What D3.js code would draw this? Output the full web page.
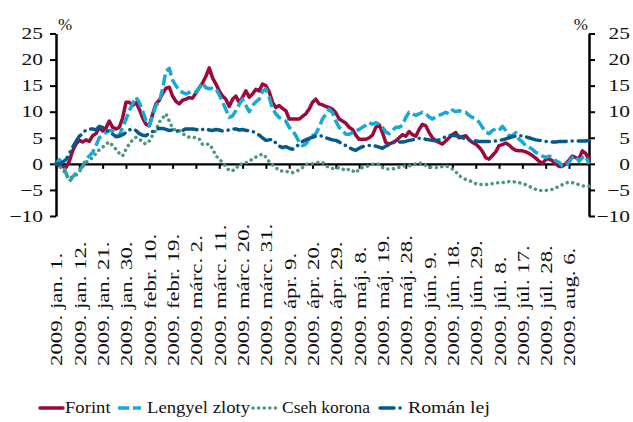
<!DOCTYPE html>
<html>
<head>
<meta charset="utf-8">
<script src="https://cdn.jsdelivr.net/npm/d3@7"></script>
<style>
  body { margin: 0; background: #fff; }
  svg { display: block; }
</style>
</head>
<body>
<svg id="chart" width="633" height="422" font-family="'Liberation Serif', 'DejaVu Serif', serif"></svg>
<script>
// tick labels, one every 7 trading days
const tickLabels = [
  "2009. jan. 1.", "2009. jan. 12.", "2009. jan. 21.", "2009. jan. 30.",
  "2009. febr. 10.", "2009. febr. 19.", "2009. márc. 2.", "2009. márc. 11.",
  "2009. márc. 20.", "2009. márc. 31.", "2009. ápr. 9.", "2009. ápr. 20.",
  "2009. ápr. 29.", "2009. máj. 8.", "2009. máj. 19.", "2009. máj. 28.",
  "2009. jún. 9.", "2009. jún. 18.", "2009. jún. 29.", "2009. júl. 8.",
  "2009. júl. 17.", "2009. júl. 28.", "2009. aug. 6."
];
const yTicks = [-10, -5, 0, 5, 10, 15, 20, 25];

const forint = [
  0, -0.3, -0.5, -0.7, 0.5, 2.5, 3.8, 4.5, 4.2, 4.6,
  4.3, 5.4, 5.8, 7.0, 6.3, 6.9, 8.2, 7.0, 6.7, 7.0,
  8.8, 11.8, 11.8, 11.2, 11.8, 10.5, 8.8, 7.6, 7.3, 9.5,
  11.5, 12.2, 13.5, 14.5, 14.7, 13.0, 12.0, 11.5, 12.2, 12.4,
  12.7, 12.6, 13.6, 14.6, 15.5, 16.8, 18.4, 16.5, 15.3, 14.0,
  13.0, 12.4, 11.0, 12.4, 13.0, 11.8, 12.8, 14.0, 12.8, 13.4,
  14.3, 14.0, 15.3, 15.0, 13.8, 11.8, 10.8, 11.2, 10.6, 10.2,
  8.6, 8.6, 8.6, 8.6, 9.1, 9.6, 10.5, 11.8, 12.4, 11.5,
  11.3, 11.0, 10.8, 10.5, 9.8, 8.6, 8.2, 7.8, 7.0, 6.6,
  5.5, 4.7, 4.7, 4.7, 5.0, 5.5, 7.0, 7.5, 6.0, 4.1,
  3.8, 4.1, 4.4, 5.0, 5.6, 5.3, 6.2, 5.6, 5.3, 6.6,
  7.6, 7.3, 6.0, 5.0, 4.4, 4.1, 3.8, 4.4, 5.0, 5.6,
  6.0, 5.0, 5.2, 5.4, 4.6, 4.1, 3.8, 3.2, 2.4, 1.2,
  0.9, 1.6, 2.3, 3.5, 3.7, 4.0, 3.6, 3.0, 2.6, 2.5,
  2.5, 2.3, 2.0, 1.6, 1.1, 0.5, 0.1, 0.8, 1.0, 0.6,
  0.0, -0.5, -0.5, 0.0, 0.7, 1.5, 1.2, 1.0, 2.5, 2.0, 0.8
];
const zloty = [
  0, 0.8, 0.2, -1.8, -3.4, -2.5, -1.8, -1.2, -0.5, 0.9,
  1.5, 2.2, 3.5, 5.0, 5.4, 6.0, 6.4, 6.3, 6.0, 5.4,
  7.0, 8.5, 10.2, 11.5, 12.8, 11.8, 10.2, 8.3, 7.3, 9.2,
  11.2, 11.8, 14.4, 17.8, 18.3, 16.0, 15.0, 14.0, 13.7, 13.4,
  13.7, 14.0, 13.8, 14.6, 15.5, 14.6, 14.4, 14.5, 14.4, 13.2,
  11.9, 10.4, 8.9, 9.2, 10.2, 11.4, 12.4, 11.2, 10.0, 11.2,
  11.9, 12.4, 13.9, 14.4, 12.8, 10.6, 9.6, 8.9, 8.5, 8.2,
  7.0, 6.4, 5.4, 4.2, 3.5, 3.8, 4.8, 5.4, 5.8, 7.0,
  8.6, 9.5, 10.5, 9.8, 8.2, 7.0, 6.4, 5.7, 5.7, 6.0,
  6.3, 6.6, 7.0, 7.4, 7.9, 7.6, 7.9, 7.6, 7.0, 6.1,
  5.8, 6.4, 7.0, 7.0, 7.4, 8.9, 9.9, 9.6, 9.3, 9.6,
  9.9, 9.6, 9.0, 8.6, 9.0, 9.3, 9.6, 9.9, 9.6, 10.3,
  10.0, 10.2, 9.9, 9.9, 9.3, 8.9, 8.6, 8.0, 7.0, 6.1,
  5.8, 6.4, 6.7, 6.4, 7.2, 6.4, 5.4, 5.4, 6.0, 4.7,
  4.2, 3.5, 3.2, 2.8, 2.2, 1.9, 1.5, 1.2, 1.5, 1.2,
  0.6, 0.3, -0.4, -0.4, 0.3, 1.2, 1.5, 0.5, 1.2, 1.5, 0.0
];
const korona = [
  0, -0.5, -1.0, -2.0, -2.8, -2.5, -2.2, -1.5, -0.5, 0.3,
  0.7, 1.2, 2.0, 2.7, 3.2, 3.8, 4.2, 3.5, 2.8, 2.0,
  1.5, 2.8, 3.8, 4.6, 5.1, 4.8, 4.1, 3.8, 4.4, 5.5,
  6.5, 8.0, 8.8, 9.6, 8.2, 6.8, 6.4, 6.4, 5.8, 5.4,
  5.1, 5.1, 5.0, 4.8, 3.7, 3.7, 3.8, 2.9, 1.5, 1.0,
  0.2, -0.5, -1.3, -1.3, -1.0, 0.0, -0.1, 0.2, 0.4, 1.0,
  1.3, 1.6, 1.9, 1.3, 0.4, -0.2, -0.7, -1.3, -1.4, -1.4,
  -1.6, -1.7, -1.4, -1.2, -0.7, -0.1, 0.0, 0.0, 0.2, 0.3,
  0.3, -0.3, -0.7, -0.9, -0.9, -0.7, -1.0, -1.3, -1.0, -1.3,
  -1.7, -1.0, -0.7, -0.5, -0.4, -0.1, 0.0, -0.1, -0.7, -1.0,
  -1.0, -1.0, -0.8, -0.7, -0.4, -0.4, -0.4, -0.2, 0.0, 0.2,
  0.0, -0.3, -0.6, -0.7, -0.7, -0.7, -0.5, -0.4, -0.6, -1.0,
  -1.5, -2.3, -2.6, -3.0, -3.2, -3.5, -3.8, -3.9, -4.0, -4.0,
  -3.9, -3.8, -3.7, -3.6, -3.6, -3.5, -3.4, -3.4, -3.5, -3.6,
  -3.8, -4.0, -4.3, -4.6, -4.9, -5.1, -5.1, -5.1, -5.0, -4.9,
  -4.6, -4.3, -4.0, -3.7, -3.5, -3.6, -3.8, -4.0, -4.2, -4.3, -4.3
];
const lej = [
  0, 0, 0.3, 0.8, 2.0, 3.2, 4.3, 5.3, 5.8, 6.5,
  6.7, 6.7, 6.5, 7.2, 7.0, 6.5, 6.1, 5.7, 5.2, 5.3,
  5.6, 6.0, 6.5, 6.7, 6.4, 5.8, 5.5, 5.4, 5.9, 6.2,
  6.6, 6.8, 6.8, 6.6, 6.4, 6.5, 6.4, 6.2, 6.4, 6.7,
  6.7, 6.7, 6.6, 6.4, 6.6, 6.7, 6.5, 6.4, 6.6, 6.5,
  6.3, 6.4, 6.5, 6.7, 6.7, 6.5, 6.6, 6.4, 6.4, 6.2,
  6.0, 5.5, 5.0, 4.5, 4.6, 4.7, 4.0, 3.4, 3.1, 3.3,
  3.0, 2.8, 3.2, 3.8, 4.3, 4.6, 4.9, 5.1, 5.3, 5.4,
  5.3, 5.0, 4.8, 4.6, 4.5, 4.2, 3.8, 3.5, 3.1, 2.8,
  2.6, 3.0, 3.3, 3.4, 3.5, 3.5, 3.4, 3.2, 3.0, 3.4,
  3.7, 4.0, 4.2, 4.2, 4.2, 4.3, 4.5, 4.6, 4.8, 4.9,
  4.9, 4.7, 4.6, 4.5, 4.5, 4.6, 4.9, 5.2, 5.4, 5.5,
  5.4, 5.3, 5.0, 4.8, 4.6, 4.5, 4.4, 4.3, 4.3, 4.3,
  4.3, 4.3, 4.4, 4.5, 4.6, 4.8, 5.0, 5.2, 5.3, 5.4,
  5.4, 5.2, 5.0, 4.8, 4.6, 4.5, 4.4, 4.3, 4.2, 4.2,
  4.2, 4.3, 4.3, 4.3, 4.4, 4.4, 4.4, 4.4, 4.4, 4.4, 4.5
];

const series = [
  { name: "Forint", values: forint, color: "#9c0a3c", dash: null, cap: "round", legendX: 40, textX: 65, stretch: 1.13 },
  { name: "Lengyel zloty", values: zloty, color: "#18aad3", dash: "11,4", cap: "butt", legendX: 118, textX: 147, stretch: 1.13 },
  { name: "Cseh korona", values: korona, color: "#4c9878", dash: "0.1,5.5", cap: "round", legendX: 253, textX: 282, stretch: 1.06 },
  { name: "Román lej", values: lej, color: "#045a8b", dash: "14,6,0.1,6", cap: "round", legendX: 380, textX: 408, stretch: 1.2 }
];

const svg = d3.select("#chart");
const plotLeft = 56, plotRight = 589, plotTop = 33.5, plotBottom = 216;
const step = 7;
const sx = 1.3; // horizontal stretch of the serif type

const x = d3.scaleLinear().domain([0, forint.length - 1]).range([plotLeft, plotRight]);
const y = d3.scaleLinear().domain([-10, 25]).range([plotBottom, plotTop]);
const minus = d => d < 0 ? "\u2212" + Math.abs(d) : String(d);

// left axis
const gl = svg.append("g").attr("transform", `translate(${plotLeft},0)`)
  .call(d3.axisLeft(y).tickValues(yTicks).tickSize(6).tickSizeOuter(0).tickFormat(minus))
  .attr("font-family", null).attr("font-size", null);
gl.select(".domain").attr("stroke", "#000").attr("stroke-width", 2.5);
gl.selectAll(".tick line").attr("stroke", "#000").attr("stroke-width", 2);
gl.selectAll(".tick text").attr("font-size", 16.5).attr("fill", "#111")
  .attr("x", -13 / sx).attr("transform", `scale(${sx},1)`);

// right axis, labels right-aligned at the page edge
const gr = svg.append("g").attr("transform", `translate(${plotRight},0)`)
  .call(d3.axisRight(y).tickValues(yTicks).tickSize(6).tickSizeOuter(0).tickFormat(minus))
  .attr("font-family", null).attr("font-size", null);
gr.select(".domain").attr("stroke", "#000").attr("stroke-width", 2.5);
gr.selectAll(".tick line").attr("stroke", "#000").attr("stroke-width", 2);
gr.selectAll(".tick text").attr("font-size", 16.5).attr("fill", "#111")
  .attr("text-anchor", "end")
  .attr("x", 41 / sx).attr("transform", `scale(${sx},1)`);

// % unit labels
svg.append("text").attr("x", 58).attr("y", 30).attr("font-size", 17).attr("fill", "#111").text("%");
svg.append("text").attr("x", 588).attr("y", 30).attr("font-size", 17).attr("fill", "#111")
  .attr("text-anchor", "end").text("%");

// x axis on the zero line
const gx = svg.append("g").attr("transform", `translate(0,${y(0)})`)
  .call(d3.axisBottom(x)
    .tickValues(tickLabels.map((_, k) => k * step))
    .tickSize(5).tickSizeOuter(0)
    .tickFormat((d, k) => tickLabels[k]))
  .attr("font-family", null).attr("font-size", null);
gx.select(".domain").attr("stroke", "#000").attr("stroke-width", 2.2);
gx.selectAll(".tick line").attr("stroke", "#000").attr("stroke-width", 2);
gx.selectAll(".tick text")
  .attr("font-size", 16.5).attr("fill", "#111")
  .attr("x", 0).attr("y", 0).attr("dy", "0.36em")
  .attr("text-anchor", "start")
  .attr("transform", `translate(0,${366 - y(0)}) rotate(-90) scale(1.38,1)`);

// series
const line = d3.line().x((d, i) => x(i)).y(d => y(d));
series.forEach(s => {
  svg.append("path")
    .datum(s.values)
    .attr("d", line)
    .attr("fill", "none")
    .attr("stroke", s.color)
    .attr("stroke-width", 3.5)
    .attr("stroke-linejoin", "round")
    .attr("stroke-linecap", s.cap)
    .attr("stroke-dasharray", s.dash);
});

// legend
const lg = svg.append("g").attr("transform", "translate(0,408)");
series.forEach(s => {
  lg.append("line")
    .attr("x1", s.legendX).attr("x2", s.legendX + 23)
    .attr("y1", 0).attr("y2", 0)
    .attr("stroke", s.color).attr("stroke-width", 3.5)
    .attr("stroke-linecap", s.cap)
    .attr("stroke-dasharray", s.dash);
  lg.append("text")
    .attr("x", s.textX / s.stretch).attr("y", 0).attr("dy", "0.33em")
    .attr("transform", `scale(${s.stretch},1)`)
    .attr("font-size", 16.5).attr("fill", "#111")
    .text(s.name);
});
</script>
</body>
</html>
